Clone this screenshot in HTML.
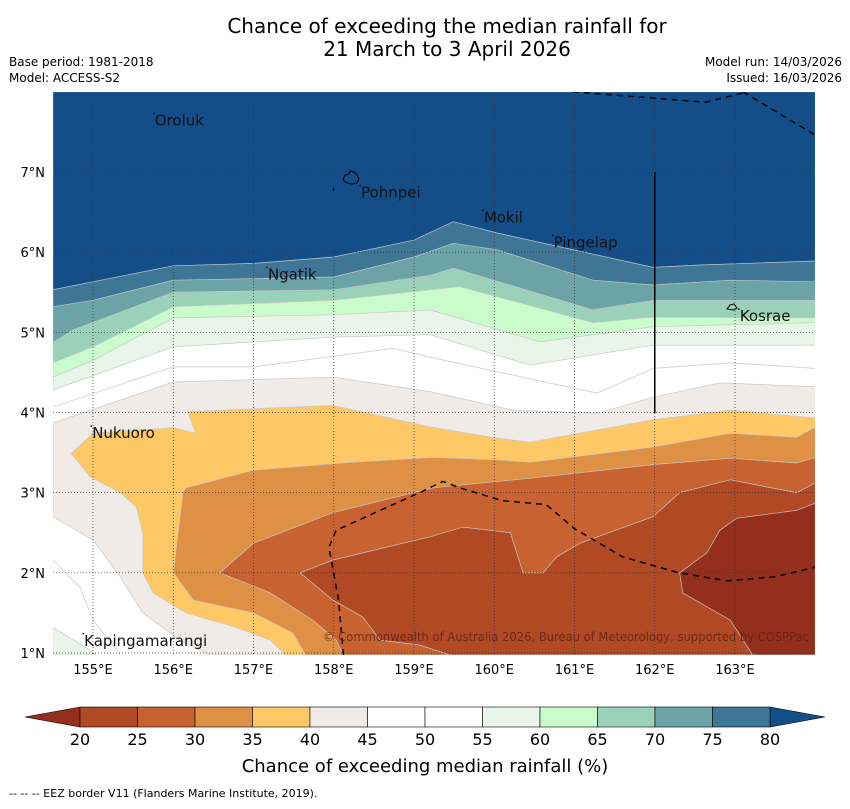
<!DOCTYPE html>
<html><head><meta charset="utf-8">
<style>
body{margin:0;background:#fff;width:850px;height:804px;overflow:hidden;font-family:"Liberation Sans","DejaVu Sans",sans-serif;}
svg text{font-family:"DejaVu Sans","Liberation Sans",sans-serif;}
</style></head>
<body>
<svg id="chart" width="850" height="804" viewBox="0 0 850 804">
<text x="447" y="33" font-size="20" text-anchor="middle">Chance of exceeding the median rainfall for</text>
<text x="447" y="56" font-size="20" text-anchor="middle">21 March to 3 April 2026</text>
<text x="9" y="66" font-size="12">Base period: 1981-2018</text>
<text x="9" y="82" font-size="12">Model: ACCESS-S2</text>
<text x="842" y="66" font-size="12" text-anchor="end">Model run: 14/03/2026</text>
<text x="842" y="82" font-size="12" text-anchor="end">Issued: 16/03/2026</text>
<defs><clipPath id="mapclip"><rect x="53" y="92" width="762" height="563"/></clipPath></defs>
<g id="map" clip-path="url(#mapclip)"></g>
<g id="axes"></g>
<g id="cbar"></g>
<text x="425" y="772" font-size="18" text-anchor="middle">Chance of exceeding median rainfall (%)</text>
<text x="9" y="797" font-size="11">--  --  -- EEZ border V11 (Flanders Marine Institute, 2019).</text>
</svg>
<script>
const levels=[20,25,30,35,40,45,50,55,60,65,70,75,80];
const bandColors=['#952f1d','#b04924','#c96231','#de9045','#fdc865','#f0ebe6','#ffffff','#ffffff','#e9f5e8','#c9fcca','#9bd0b9','#6ba3a6','#3f7595','#134e88'];
const lonTicks=[155,156,157,158,159,160,161,162,163];
const latTicks=[1,2,3,4,5,6,7];
const top55=[[154.5,4.28],[156,4.82],[158,4.94],[159.2,4.97],[160.45,4.59],[161.98,4.84],[164,4.84]];
const top60=[[154.5,4.44],[155,4.65],[156,5.18],[158,5.22],[159.2,5.28],[160.57,4.88],[161.98,5.07],[164,5.12]];
const top65=[[154.5,4.62],[155,4.82],[156,5.32],[158,5.40],[159.2,5.53],[159.57,5.57],[161.23,5.12],[161.98,5.19],[164,5.18]];
const top70=[[154.5,4.87],[154.75,5.03],[156,5.50],[158,5.53],[159.2,5.71],[159.49,5.80],[161.23,5.28],[161.98,5.40],[164,5.40]];
const top75=[[154.5,5.32],[155,5.40],[156,5.65],[158,5.69],[159,5.94],[159.49,6.11],[160.03,6.03],[161.23,5.65],[161.98,5.59],[162.94,5.65],[164,5.63]];
const top80=[[154.5,5.53],[156,5.83],[157,5.86],[158,5.94],[159,6.15],[159.49,6.38],[160.03,6.24],[161.98,5.81],[162.56,5.84],[164,5.89]];
const line50=[[154.5,4.07],[156,4.57],[157,4.57],[158.74,4.80],[159.2,4.69],[161.28,4.24],[161.98,4.55],[162.94,4.62],[164,4.55]];
const line50sw=[[154.5,2.16],[154.84,1.82],[155,1.41],[155.34,0.975]];
const corner55=[[154.5,1.32],[154.91,1.07],[155.04,0.975],[154.5,0.975]];
const low45=[[154.5,3.87],[156,4.38],[158,4.44],[159.2,4.26],[160.23,4.03],[161.28,3.99],[161.98,4.19],[162.81,4.37],[164,4.32],[164,0.975],[156.46,0.975],[156.08,1.16],[155.62,1.50],[155.34,1.95],[155,2.41],[154.5,2.70]];
const low40=[[154.73,3.49],[155,3.74],[156,3.81],[156.28,3.74],[156.18,4.01],[157.99,4.09],[159.2,3.82],[160.03,3.68],[160.45,3.63],[161.98,3.91],[162.94,4.03],[164,3.93],[164,0.975],[157.40,0.975],[157.21,1.16],[156.78,1.32],[156.16,1.50],[155.75,1.75],[155.62,2.0],[155.62,2.5],[155.54,2.82],[155.34,3.0],[154.96,3.2]];
const low35=[[156.12,3.0],[156.16,3.06],[157,3.28],[158.24,3.38],[159.24,3.44],[160.03,3.41],[160.45,3.38],[161.98,3.57],[162.94,3.74],[163.77,3.69],[164,3.82],[164,0.975],[157.65,0.975],[157.49,1.25],[157,1.50],[156.25,1.66],[156,2.0]];
const low30=[[156.58,2.0],[157,2.37],[157.99,2.75],[159.24,3.06],[160.45,3.18],[161.98,3.35],[162.94,3.43],[163.77,3.37],[164,3.44],[164,0.975],[158.12,0.975],[158.03,1.16],[157.74,1.41],[157.21,1.75]];
const low25=[[157.58,2.0],[157.99,2.16],[159.2,2.45],[159.61,2.57],[160.2,2.50],[160.36,2.0],[160.61,2.0],[160.78,2.20],[161.07,2.37],[161.98,2.70],[162.31,3.0],[162.94,3.16],[163.77,3.0],[164,3.12],[164,0.975],[159.45,0.975],[159.07,1.10],[158.58,1.16],[158.36,1.45],[157.99,1.66]];
const low20=[[162.31,2.0],[162.35,1.75],[162.94,1.41],[163.22,0.975],[164,0.975],[164,2.87],[163.77,2.78],[163.02,2.68],[162.81,2.53],[162.65,2.25]];
const eezSouth=[[158.12,0.975],[158.06,1.66],[157.94,2.32],[158.03,2.53],[158.58,2.78],[159.07,3.0],[159.36,3.14],[159.57,3.06],[160.1,2.9],[160.65,2.85],[161.0,2.55],[161.6,2.2],[162.3,2.0],[162.9,1.9],[163.5,1.95],[164,2.07]];
const eezTop1=[[160.98,8],[162.63,7.87],[163.16,8]];
const eezTop2=[[163.1,8],[163.6,7.7],[164,7.46]];
const places=['Oroluk','Pohnpei','Mokil','Pingelap','Ngatik','Kosrae','Nukuoro','Kapingamarangi'];
const placeLon=[155.77,158.34,159.87,160.74,157.18,163.06,154.99,154.89];
const placeLat=[7.58,6.68,6.37,6.06,5.66,5.14,3.68,1.09];

const NS='http://www.w3.org/2000/svg';
function X(lon){return 93+(lon-155)*80.25;}
function Y(lat){return 653-(lat-1)*80.17;}
function mk(tag,attrs,parent){const e=document.createElementNS(NS,tag);for(const k in attrs)e.setAttribute(k,attrs[k]);parent.appendChild(e);return e;}
function pts(a){return a.map(p=>X(p[0]).toFixed(1)+','+Y(p[1]).toFixed(1)).join(' ');}
const map=document.getElementById('map');
let bg=mk('rect',{x:53,y:92,width:762,height:563,fill:'#ffffff'},map);


function topPoly(line,color,name){
  const a=line.concat([[164,8],[154.5,8]]);
  const p=mk('polygon',{points:pts(a),fill:color,stroke:'#c8c8c8','stroke-width':0.7},map);
  
  
}
function closedPoly(a,color,name){
  const p=mk('polygon',{points:pts(a),fill:color,stroke:'#c8c8c8','stroke-width':0.7},map);
  
  
}
topPoly(top55,bandColors[8],'band-55-60');
topPoly(top60,bandColors[9],'band-60-65');
topPoly(top65,bandColors[10],'band-65-70');
topPoly(top70,bandColors[11],'band-70-75');
topPoly(top75,bandColors[12],'band-75-80');
topPoly(top80,bandColors[13],'band-above-80');
closedPoly(corner55,bandColors[8],'band-55-60-southwest');
closedPoly(low45,bandColors[5],'band-40-45');
closedPoly(low40,bandColors[4],'band-35-40');
closedPoly(low35,bandColors[3],'band-30-35');
closedPoly(low30,bandColors[2],'band-25-30');
closedPoly(low25,bandColors[1],'band-20-25');
closedPoly(low20,bandColors[0],'band-below-20');
[line50,line50sw].forEach(l=>{const e=mk('polyline',{points:pts(l),fill:'none',stroke:'#cccccc','stroke-width':0.8},map);

});
lonTicks.forEach(v=>{const g=mk('line',{x1:X(v),x2:X(v),y1:92,y2:655,stroke:'#333','stroke-width':0.7,'stroke-dasharray':'1,2'},map);

});
latTicks.forEach(v=>{const g=mk('line',{x1:53,x2:815,y1:Y(v),y2:Y(v),stroke:'#333','stroke-width':0.7,'stroke-dasharray':'1,2'},map);

});
[eezSouth,eezTop1,eezTop2].forEach(l=>{const e=mk('polyline',{points:pts(l),fill:'none',stroke:'#000','stroke-width':1.5,'stroke-dasharray':'6,5'},map);

});
let vl=mk('line',{x1:X(162),x2:X(162),y1:Y(7),y2:Y(3.99),stroke:'#000','stroke-width':1.5},map);


let pohn=mk('path',{d:'M343,180 l2,-5 l4,-1 l1,-3 l4,1 l3,3 l2,4 l-2,4 l-5,1 l-5,-1 z M334,188 l-1,3',fill:'none',stroke:'#000','stroke-width':1},map);


let kos=mk('path',{d:'M727,309 l3,-4 l4,-1 l3,4 l-3,2 z',fill:'none',stroke:'#000','stroke-width':1},map);


places.forEach((n,i)=>{const t=mk('text',{x:X(placeLon[i]),y:Y(placeLat[i]),'font-size':15,fill:'#111'},map);t.textContent=n;


const d=mk('circle',{cx:X(placeLon[i])-1,cy:Y(placeLat[i])-12,r:0.8,fill:'#000'},map);

});
let cr=mk('text',{x:323,y:641,'font-size':12,fill:'#5a2414','fill-opacity':0.8,textLength:486,lengthAdjust:'spacingAndGlyphs'},map);
cr.textContent='© Commonwealth of Australia 2026, Bureau of Meteorology, supported by COSPPac';


const axes=document.getElementById('axes');
lonTicks.forEach(v=>{const t=mk('text',{x:X(v),y:674,'font-size':13,'text-anchor':'middle'},axes);t.textContent=v+'°E';

});
latTicks.forEach(v=>{const t=mk('text',{x:45,y:Y(v)+5,'font-size':13,'text-anchor':'end'},axes);t.textContent=v+'°N';

});
const cb=document.getElementById('cbar');
const cx0=80,cx1=770,cy=707,ch=20;
function CX(v){return cx0+(v-20)/60*(cx1-cx0);}
let lt=mk('polygon',{points:`${CX(20)},${cy} 25,${cy+ch/2} ${CX(20)},${cy+ch}`,fill:bandColors[0],stroke:'#000','stroke-width':0.6},cb);


let rt=mk('polygon',{points:`${CX(80)},${cy} 825,${cy+ch/2} ${CX(80)},${cy+ch}`,fill:bandColors[13],stroke:'#000','stroke-width':0.6},cb);


for(let i=0;i<levels.length-1;i++){
  const r=mk('rect',{x:CX(levels[i]),y:cy,width:CX(levels[i+1])-CX(levels[i]),height:ch,fill:bandColors[i+1],stroke:'#000','stroke-width':0.6},cb);
  
  
}
levels.forEach(v=>{const t=mk('text',{x:CX(v),y:745,'font-size':16,'text-anchor':'middle'},cb);t.textContent=v;

});
</script>
</body></html>
